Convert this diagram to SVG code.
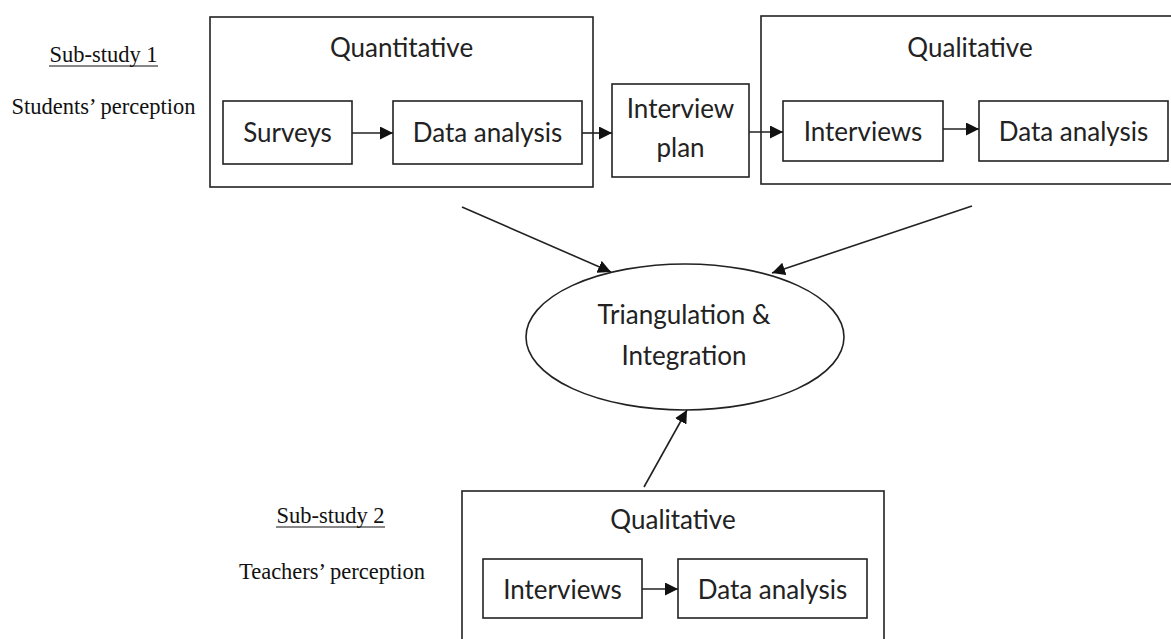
<svg xmlns="http://www.w3.org/2000/svg" width="1171" height="639" viewBox="0 0 1171 639">
<defs>
<marker id="ah" markerUnits="userSpaceOnUse" markerWidth="15" markerHeight="13" refX="13" refY="6.5" orient="auto">
<path d="M0,0 L13,6.5 L0,13 Z" fill="#111"/>
</marker>
</defs>
<style>
.box{fill:none;stroke:#222;stroke-width:1.6}
.lbl{font-family:Lato,"Open Sans",sans-serif;font-size:26px;fill:#222;text-anchor:middle}
.ser{font-family:"Liberation Serif","Times New Roman",serif;font-size:22.5px;fill:#111;text-anchor:middle}
.con{stroke:#222;stroke-width:1.6;fill:none;marker-end:url(#ah)}
</style>
<rect width="1171" height="639" fill="#fff"/>

<g id="substudy1-label">
<text class="ser" x="103.5" y="62">Sub-study 1</text>
<line x1="49" y1="66" x2="158" y2="66" stroke="#111" stroke-width="1.2"/>
<text class="ser" x="103.5" y="114">Students’ perception</text>
</g>

<g id="quantitative">
<rect class="box" x="210" y="17" width="383" height="170"/>
<text class="lbl" x="401.5" y="57">Quantitative</text>
</g>
<g id="surveys">
<rect class="box" x="223" y="101" width="129" height="63"/>
<text class="lbl" x="287.5" y="142">Surveys</text>
</g>
<g id="quant-data-analysis">
<rect class="box" x="393" y="101" width="189" height="63"/>
<text class="lbl" x="487.5" y="142">Data analysis</text>
</g>
<g id="interview-plan">
<rect class="box" x="612" y="84" width="137" height="93"/>
<text class="lbl" x="680.5" y="118">Interview</text>
<text class="lbl" x="680.5" y="157">plan</text>
</g>
<g id="qualitative-1">
<rect class="box" x="761" y="16" width="420" height="168"/>
<text class="lbl" x="970" y="57">Qualitative</text>
</g>
<g id="interviews-1">
<rect class="box" x="783" y="101" width="160" height="60"/>
<text class="lbl" x="863" y="141">Interviews</text>
</g>
<g id="qual-data-analysis-1">
<rect class="box" x="979" y="101" width="189" height="60"/>
<text class="lbl" x="1073.5" y="141">Data analysis</text>
</g>

<g id="triangulation">
<ellipse class="box" cx="685" cy="337" rx="159" ry="73"/>
<text class="lbl" x="684" y="324">Triangulation &amp;</text>
<text class="lbl" x="684" y="365">Integration</text>
</g>

<g id="substudy2-label">
<text class="ser" x="330.5" y="523">Sub-study 2</text>
<line x1="276" y1="527" x2="385" y2="527" stroke="#111" stroke-width="1.2"/>
<text class="ser" x="332" y="579">Teachers’ perception</text>
</g>
<g id="qualitative-2">
<rect class="box" x="462" y="491" width="422" height="160"/>
<text class="lbl" x="673" y="529">Qualitative</text>
</g>
<g id="interviews-2">
<rect class="box" x="483" y="559" width="159" height="59"/>
<text class="lbl" x="562.5" y="599">Interviews</text>
</g>
<g id="qual-data-analysis-2">
<rect class="box" x="678" y="559" width="189" height="59"/>
<text class="lbl" x="772.5" y="599">Data analysis</text>
</g>

<g id="connectors">
<line class="con" x1="352" y1="133" x2="393" y2="133"/>
<line class="con" x1="582" y1="133" x2="612" y2="133"/>
<line class="con" x1="749" y1="132" x2="783" y2="132"/>
<line class="con" x1="943" y1="129" x2="979" y2="129"/>
<line class="con" x1="642" y1="589" x2="678" y2="589"/>
<line class="con" x1="462" y1="207" x2="611" y2="272"/>
<line class="con" x1="972" y1="206" x2="772" y2="273"/>
<line class="con" x1="644" y1="487" x2="687" y2="410"/>
</g>
</svg>
